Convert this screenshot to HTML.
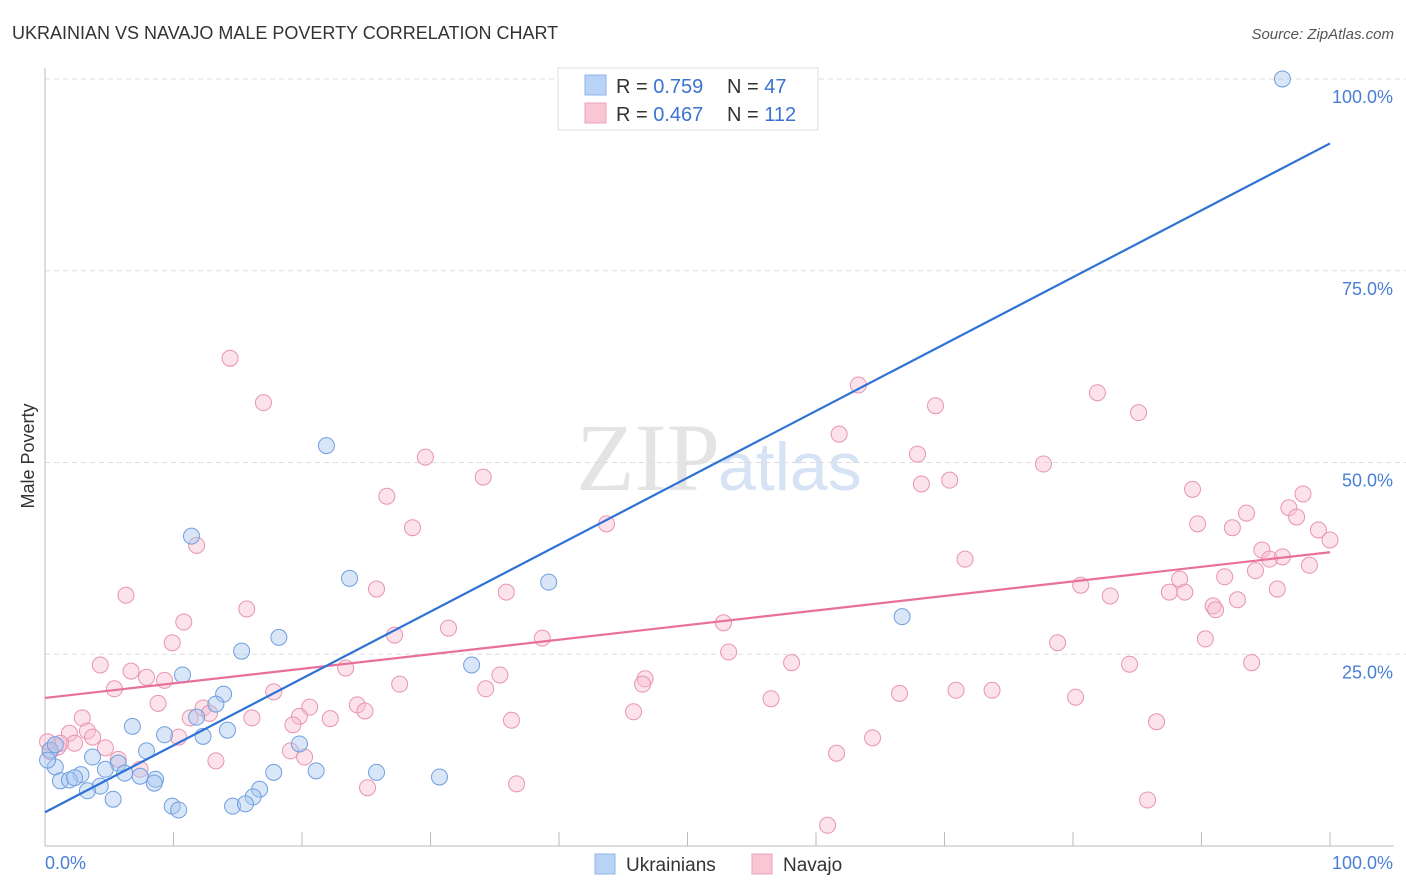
<!DOCTYPE html>
<html><head><meta charset="utf-8"><style>
body{margin:0;background:#fff;font-family:"Liberation Sans",sans-serif;}
svg{display:block}
</style></head><body>
<svg id="chart" width="1406" height="892">
<text x="12" y="39" font-size="18" fill="#333">UKRAINIAN VS NAVAJO MALE POVERTY CORRELATION CHART</text>
<text x="1394" y="39" font-size="15" fill="#555" font-style="italic" text-anchor="end">Source: ZipAtlas.com</text>
<text x="720" y="490" font-size="96" fill="#e4e4e4" text-anchor="end" font-family="Liberation Serif">ZIP</text>
<text x="718" y="490" font-size="68" fill="#d6e3f4">atlas</text>
<g id="grid"></g><g id="marks"></g>
<text transform="translate(34,456) rotate(-90)" font-size="18" fill="#333" text-anchor="middle">Male Poverty</text>
<rect x="558" y="68" width="260" height="62" fill="#fff" stroke="#ddd"/>
<rect x="585" y="75" width="21" height="20" fill="#b8d3f5" stroke="#8fb6e8"/>
<rect x="585" y="103" width="21" height="20" fill="#f8c6d4" stroke="#eba3ba"/>
<text x="616" y="93" font-size="20" fill="#333">R = <tspan fill="#3a73d0">0.759</tspan></text>
<text x="727" y="93" font-size="20" fill="#333">N = <tspan fill="#3a73d0"> 47</tspan></text>
<text x="616" y="121" font-size="20" fill="#333">R = <tspan fill="#3a73d0">0.467</tspan></text>
<text x="727" y="121" font-size="20" fill="#333">N = <tspan fill="#3a73d0">112</tspan></text>
<text x="45" y="869" font-size="18" fill="#4a7fd6">0.0%</text>
<text x="1393" y="869" font-size="18" fill="#4a7fd6" text-anchor="end">100.0%</text>
<rect x="595" y="854" width="20" height="20" fill="#b8d3f5" stroke="#8fb6e8"/>
<text x="626" y="871" font-size="19" fill="#333">Ukrainians</text>
<rect x="752" y="854" width="20" height="20" fill="#f8c6d4" stroke="#eba3ba"/>
<text x="783" y="871" font-size="19" fill="#333">Navajo</text>
</svg>
<script>
const yTicks=[25,50,75,100];
const yTickLabels=["25.0%","50.0%","75.0%","100.0%"];
const bluePx=[[1282,79],[327,446],[192,536],[350,578],[549,582],[902,617],[279,637],[242,651],[471,665],[183,675],[223,694],[216,704],[196,717],[133,726],[227,730],[165,735],[203,736],[146,751],[300,744],[93,757],[118,763],[55,767],[105,769],[81,775],[125,773],[140,776],[156,779],[274,772],[316,771],[376,772],[439,777],[60,781],[70,780],[74,778],[100,786],[154,783],[88,791],[260,789],[113,799],[253,797],[172,806],[178,810],[233,806],[246,804],[50,750],[55,745],[48,760]];
const pinkPx=[[230,358],[264,403],[859,385],[1098,393],[936,406],[1138,413],[839,434],[425,457],[917,454],[1043,464],[483,477],[922,484],[949,480],[387,496],[1193,489],[1303,494],[606,524],[413,528],[1198,524],[1246,513],[1289,508],[1296,517],[1232,528],[1318,530],[197,545],[1330,540],[1262,550],[965,559],[1270,559],[1283,557],[1256,571],[1310,565],[1180,579],[1225,577],[1081,585],[1170,592],[1185,592],[1110,596],[1277,589],[376,589],[506,592],[1237,600],[126,595],[1213,606],[1216,610],[247,609],[184,622],[448,628],[723,623],[395,635],[542,638],[172,643],[1205,639],[1058,643],[728,652],[100,665],[346,668],[792,663],[1130,664],[1252,663],[131,671],[147,677],[164,680],[500,675],[645,679],[642,684],[400,684],[114,689],[486,689],[274,692],[158,703],[771,699],[900,693],[956,690],[992,690],[1075,697],[357,705],[310,707],[365,711],[203,708],[210,713],[190,718],[252,718],[299,716],[330,719],[633,712],[511,720],[82,718],[293,725],[1156,722],[69,733],[87,731],[93,737],[178,737],[290,751],[105,748],[75,743],[58,747],[118,759],[305,757],[216,761],[872,738],[836,753],[140,769],[368,788],[517,784],[1148,800],[828,825],[60,743],[50,752],[48,742]];
// convert reading to data percent
const blueX=bluePx.map(p=>+((p[0]-45)/12.85).toFixed(1));
const blueY=bluePx.map(p=>+((846-p[1])/7.67).toFixed(1));
const pinkX=pinkPx.map(p=>+((p[0]-45)/12.85).toFixed(1));
const pinkY=pinkPx.map(p=>+((846-p[1])/7.67).toFixed(1));
const blueTrend=[4.4,91.6];
const pinkTrend=[19.3,38.3];

const sx=v=>45+v*12.85, sy=v=>846-v*7.67;
const NS="http://www.w3.org/2000/svg";
const g=document.getElementById('grid'), m=document.getElementById('marks');
function mk(t,a,p){const e=document.createElementNS(NS,t);for(const k in a)e.setAttribute(k,a[k]);p.appendChild(e);return e;}
yTicks.forEach((t,i)=>{
 const l=mk('line',{x1:45,x2:1420,y1:sy(t),y2:sy(t),stroke:'#ddd','stroke-dasharray':'5,4'},g);
 
 
 const tx=mk('text',{x:1393,y:sy(t)+24,'font-size':18,fill:'#4a7fd6','text-anchor':'end'},g);
 tx.textContent=yTickLabels[i];
 
 
});
const ax=mk('line',{x1:45,x2:45,y1:68,y2:846,stroke:'#bbb'},g);


const bx=mk('line',{x1:45,x2:1394,y1:846,y2:846,stroke:'#bbb'},g);


for(let i=0;i<=10;i++){
 const t=mk('line',{x1:sx(i*10),x2:sx(i*10),y1:832,y2:846,stroke:'#bbb'},g);
 
 
}
function dots(X,Y,fill,stroke,name){
 X.forEach((x,i)=>{
  const c=mk('circle',{cx:sx(x),cy:sy(Y[i]),r:8,fill:fill,'fill-opacity':0.45,stroke:stroke,'stroke-width':1},m);
  
  
 });
}
dots(pinkX,pinkY,'#f8bfd0','#e994b0','navajo-point');
dots(blueX,blueY,'#a9c8f0','#6f9fe0','ukrainian-point');
const pl=mk('line',{x1:sx(0),y1:sy(pinkTrend[0]),x2:sx(100),y2:sy(pinkTrend[1]),stroke:'#e8709a','stroke-width':2.2},m);


const bl=mk('line',{x1:sx(0),y1:sy(blueTrend[0]),x2:sx(100),y2:sy(blueTrend[1]),stroke:'#2f72d6','stroke-width':2.2},m);


</script>
</body></html>
